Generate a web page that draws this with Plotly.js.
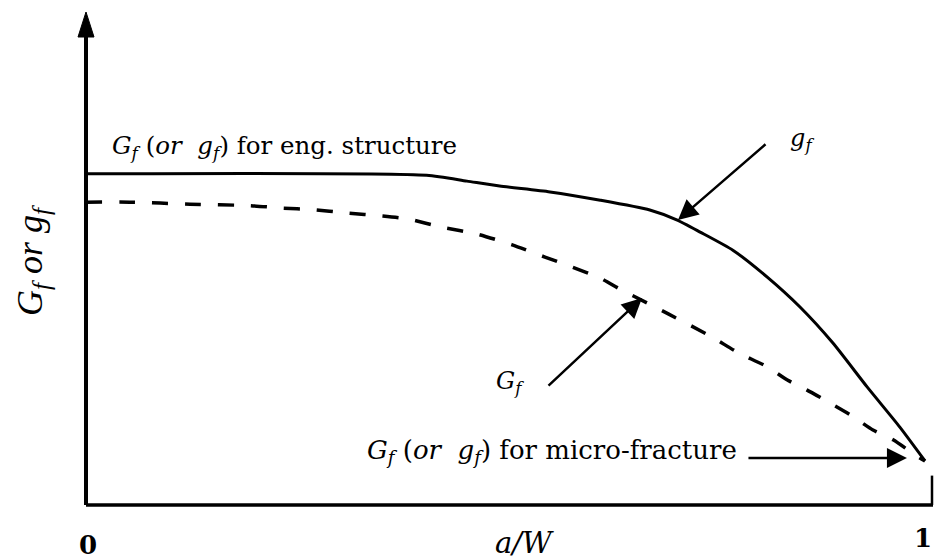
<!DOCTYPE html>
<html>
<head>
<meta charset="utf-8">
<script src="https://cdn.plot.ly/plotly-3.0.1.min.js"></script>
<style>
  html, body { margin: 0; padding: 0; background: #fff; }
  #chart { width: 935px; height: 559px; }
</style>
</head>
<body>
<div id="chart"></div>
<script>
// Fracture energy vs. relative crack length a/W (schematic, normalised units)

// Local fracture energy g_f (solid)
const aW_gf = [0, 0.406, 0.454, 0.493, 0.553, 0.613, 0.672, 0.704, 0.732, 0.771,
               0.812, 0.851, 0.890, 0.931, 0.970, 1.0];
const gf    = [0.676, 0.673, 0.661, 0.651, 0.639, 0.622, 0.602, 0.582, 0.557, 0.520,
               0.465, 0.404, 0.331, 0.241, 0.159, 0.090];

// Size-dependent fracture energy G_f (dashed)
const aW_Gf = [0, 0.052, 0.124, 0.195, 0.234, 0.269, 0.311, 0.353, 0.383, 0.424,
               0.466, 0.508, 0.547, 0.579, 0.613, 0.636, 0.669, 0.694, 0.746, 0.776,
               0.812, 0.836, 0.859, 0.887, 0.911, 0.938, 0.962, 0.990, 1.0];
const Gf    = [0.618, 0.618, 0.614, 0.611, 0.606, 0.603, 0.596, 0.590, 0.584, 0.567,
               0.553, 0.531, 0.506, 0.486, 0.463, 0.441, 0.412, 0.390, 0.343, 0.312,
               0.282, 0.255, 0.235, 0.208, 0.184, 0.153, 0.133, 0.100, 0.090];

// Axis end labels
const xTickLabels = ['0', '1'];
const xTickVals   = [0, 1];

const wide   = '"DejaVu Serif", "Liberation Serif", serif';
const narrow = '"Liberation Serif", "DejaVu Serif", serif';
const ink = '#000';

const traces = [
  {
    x: aW_gf, y: gf, type: 'scatter', mode: 'lines',
    line: { color: ink, width: 3, shape: 'spline', smoothing: 0.6 }, hoverinfo: 'skip'
  },
  {
    x: aW_Gf, y: Gf, type: 'scatter', mode: 'lines',
    line: { color: ink, width: 3.5, dash: '16px,17px', shape: 'spline', smoothing: 0.6 },
    hoverinfo: 'skip'
  }
];

// The plotting area spans the whole figure; the axes are drawn as shapes
// so the arrow-tipped ordinate and the labels beyond it stay visible.
const xRange = [-86 / 839, 849 / 839];
const yRange = [-54 / 490, 505 / 490];
const yTip = 493 / 490;

const shapes = [
  // horizontal axis
  { type: 'line', xref: 'x', yref: 'y', x0: 0, x1: 847 / 839, y0: 0, y1: 0,
    line: { color: ink, width: 3.5 } },
  // short end tick at the right
  { type: 'line', xref: 'x', yref: 'y', x0: 846 / 839, x1: 846 / 839, y0: 0, y1: 0.06,
    line: { color: ink, width: 2.5 } },
  // vertical axis
  { type: 'line', xref: 'x', yref: 'y', x0: 0, x1: 0, y0: 0, y1: 0.96,
    line: { color: ink, width: 4 } },
  // arrowhead of the vertical axis
  { type: 'path', xref: 'x', yref: 'y', xsizemode: 'pixel', ysizemode: 'pixel',
    xanchor: 0, yanchor: yTip,
    path: 'M 0 0 L -8 -25 L 8 -25 Z',
    fillcolor: ink, line: { color: ink, width: 1 } }
];

const annotations = [
  // curve labels
  { xref: 'x', yref: 'y', x: 0.0286, y: 0.731, xanchor: 'left', yanchor: 'middle',
    showarrow: false, font: { family: wide, color: ink, size: 24.5 },
    text: '<i>G</i><sub><i>f</i></sub> (<i>or  g</i><sub><i>f</i></sub>) for eng. structure' },
  { xref: 'x', yref: 'y', x: 0.3325, y: 0.110, xanchor: 'left', yanchor: 'middle',
    showarrow: false, font: { family: wide, color: ink, size: 26 },
    text: '<i>G</i><sub><i>f</i></sub> (<i>or  g</i><sub><i>f</i></sub>) for micro-fracture' },
  { xref: 'x', yref: 'y', x: 0.853, y: 0.745, xanchor: 'center', yanchor: 'middle',
    showarrow: false, font: { family: wide, color: ink, size: 24 },
    text: '<i>g</i><sub><i>f</i></sub>' },
  { xref: 'x', yref: 'y', x: 0.505, y: 0.249, xanchor: 'center', yanchor: 'middle',
    showarrow: false, font: { family: wide, color: ink, size: 24 },
    text: '<i>G</i><sub><i>f</i></sub>' },

  // pointer arrows
  { xref: 'x', yref: 'y', axref: 'x', ayref: 'y',
    x: 0.7056, y: 0.5816, ax: 0.8117, ay: 0.7388, text: '',
    showarrow: true, arrowhead: 2, arrowsize: 1.6, arrowwidth: 2.5, arrowcolor: ink },
  { xref: 'x', yref: 'y', axref: 'x', ayref: 'y',
    x: 0.6627, y: 0.4224, ax: 0.5495, ay: 0.2408, text: '',
    showarrow: true, arrowhead: 2, arrowsize: 1.6, arrowwidth: 2.5, arrowcolor: ink },
  { xref: 'x', yref: 'y', axref: 'x', ayref: 'y',
    x: 0.9785, y: 0.0959, ax: 0.7878, ay: 0.0959, text: '',
    showarrow: true, arrowhead: 2, arrowsize: 1.6, arrowwidth: 2.5, arrowcolor: ink },

  // axis titles
  { xref: 'x', yref: 'y', x: -0.0644, y: 0.5, textangle: -90,
    xanchor: 'center', yanchor: 'middle', showarrow: false,
    font: { family: narrow, color: ink, size: 36 },
    text: '<i>G</i><sub><i>f</i></sub><i> or g</i><sub><i>f</i></sub>' },
  { xref: 'x', yref: 'y', x: 0.523, y: -0.0776, xanchor: 'center', yanchor: 'middle',
    showarrow: false, font: { family: wide, color: ink, size: 29 },
    text: '<i>a/W</i>' },

  // axis end values
  { xref: 'x', yref: 'y', x: xTickVals[0] + 0.0024, y: -0.0816,
    xanchor: 'center', yanchor: 'middle', showarrow: false,
    font: { family: wide, color: ink, size: 26 }, text: '<b>' + xTickLabels[0] + '</b>' },
  { xref: 'x', yref: 'y', x: xTickVals[1] + 0.0105, y: -0.067,
    xanchor: 'right', yanchor: 'middle', showarrow: false,
    font: { family: wide, color: ink, size: 26 }, text: '<b>' + xTickLabels[1] + '</b>' }
];

const layout = {
  width: 935, height: 559,
  margin: { l: 0, r: 0, t: 0, b: 0 },
  paper_bgcolor: '#fff', plot_bgcolor: '#fff',
  showlegend: false,
  xaxis: { range: xRange, showgrid: false, zeroline: false, showline: false,
           showticklabels: false, ticks: '', fixedrange: true },
  yaxis: { range: yRange, showgrid: false, zeroline: false, showline: false,
           showticklabels: false, ticks: '', fixedrange: true },
  shapes: shapes,
  annotations: annotations
};

Plotly.newPlot('chart', traces, layout, { displayModeBar: false, staticPlot: true });
</script>
</body>
</html>
